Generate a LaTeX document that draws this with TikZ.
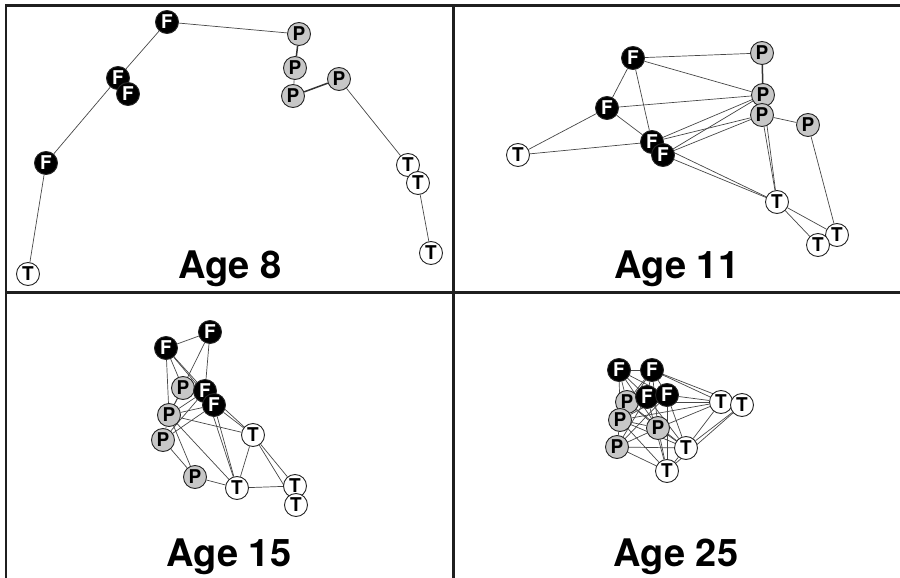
\documentclass[tikz,border=0pt]{standalone}
\usepackage{fontspec}
\setmainfont{TeX Gyre Heros}
\usetikzlibrary{backgrounds}
\begin{document}
\begin{tikzpicture}[x=1pt,y=-1pt,
 nd/.style={circle,draw=black!85,line width=0.9pt,minimum size=23pt,inner sep=0pt,font=\bfseries\fontsize{19}{19}\selectfont},
 fn/.style={nd,fill=black,text=white},
 pn/.style={nd,fill=black!22},
 tn/.style={nd,fill=white},
 ed/.style={draw=black!72,line width=0.7pt},
 thk/.style={draw=black!80,line width=1.5pt},
 frame/.style={draw=black!88,line width=2.7pt},
 agelabel/.style={font=\bfseries\fontsize{38}{38}\selectfont,inner sep=0pt,anchor=base}
]
\useasboundingbox (0,0) rectangle (900,578);
% frame
\draw[frame] (900,5.3) -- (6,5.3) -- (6,578);
\draw[frame] (453.5,5.3) -- (453.5,578);
\draw[frame] (6,292.3) -- (900,292.3);
% labels
\node[agelabel] (l8) at (230,278) {Age 8};
\node[agelabel] (l11) at (677,278) {Age 11};
\node[agelabel] (l15) at (229,566) {Age 15};
\node[agelabel] (l25) at (676,566) {Age 25};

% ---------------- Age 8
\node[fn] (aF1) at (167,22) {F};
\node[fn] (aF2) at (118,78) {F};
\node[fn] (aF3) at (128,94) {F};
\node[fn] (aF4) at (46,163) {F};
\node[pn] (aP1) at (299,34) {P};
\node[pn] (aP2) at (295,68) {P};
\node[pn] (aP3) at (293,96) {P};
\node[pn] (aP4) at (339,79) {P};
\node[tn] (aT1) at (408,165) {T};
\node[tn] (aT2) at (418,183) {T};
\node[tn] (aT3) at (431,253) {T};
\node[tn] (aT4) at (28,274) {T};
\begin{scope}[on background layer]
\draw[ed] (aF1) -- (aP1);
\draw[ed] (aF1) -- (aF2);
\draw[ed] (aF2) -- (aF4);
\draw[ed] (aF4) -- (aT4);
\draw[thk] (aP1) -- (aP2);
\draw[ed] (aP2) -- (aP3);
\draw[thk] (aP3) -- (aP4);
\draw[ed] (aP4) -- (aT1);
\draw[ed] (aT1) -- (aT2);
\draw[ed] (aT2) -- (aT3);
\end{scope}

% ---------------- Age 11
\node[fn] (bF1) at (633,58) {F};
\node[fn] (bF2) at (607,108) {F};
\node[fn] (bF3) at (652,142) {F};
\node[fn] (bF4) at (663,155) {F};
\node[pn] (bP1) at (762,53) {P};
\node[pn] (bP2) at (763,95) {P};
\node[pn] (bP3) at (762,115) {P};
\node[pn] (bP4) at (808,125) {P};
\node[tn] (bT1) at (518,155) {T};
\node[tn] (bT2) at (777,202) {T};
\node[tn] (bT3) at (837,235) {T};
\node[tn] (bT4) at (818,245) {T};
\begin{scope}[on background layer]
\draw[ed] (bF1) -- (bP1);
\draw[ed] (bF1) -- (bP2);
\draw[ed] (bF1) -- (bF2);
\draw[ed] (bF1) -- (bF3);
\draw[ed] (bF2) -- (bP2);
\draw[ed] (bF2) -- (bT1);
\draw[ed] (bF2) -- (bF3);
\draw[ed] (bT1) -- (bF3);
\draw[ed] (bF3) -- (bP2);
\draw[ed] (bF4) -- (bP2);
\draw[ed] (bF3) -- (bP3);
\draw[ed] (bF4) -- (bP3);
\draw[ed] (bF3) -- (bT2);
\draw[ed] (bF4) -- (bT2);
\draw[thk] (bP1) -- (bP2);
\draw[ed] (bP3) -- (bP4);
\draw[ed] (bP2) -- (bT2);
\draw[ed] (bP3) -- (bT2);
\draw[ed] (bP4) -- (bT3);
\draw[ed] (bT2) -- (bT3);
\draw[ed] (bT2) -- (bT4);
\end{scope}

% ---------------- Age 15
\node[fn] (cF1) at (166,348) {F};
\node[fn] (cF2) at (210,332) {F};
\node[pn] (cP1) at (183,388) {P};
\node[fn] (cF3) at (205,391) {F};
\node[fn] (cF4) at (214,405) {F};
\node[pn] (cP2) at (169,415) {P};
\node[pn] (cP3) at (163,440) {P};
\node[pn] (cP4) at (195,477) {P};
\node[tn] (cT1) at (253,435) {T};
\node[tn] (cT2) at (237,488) {T};
\node[tn] (cT3) at (295,486) {T};
\node[tn] (cT4) at (296,505) {T};
\begin{scope}[on background layer]
\draw[ed] (cF1) -- (cF2);
\draw[ed] (cF1) -- (cP2);
\draw[ed] (cF1) -- (cP1);
\draw[ed] (cF1) -- (cF3);
\draw[ed] (cF1) -- (cF4);
\draw[ed] (cF2) -- (cP2);
\draw[ed] (cF2) -- (cF3);
\draw[ed] (cP1) -- (cP2);
\draw[ed] (cP2) -- (cF3);
\draw[ed] (cP2) -- (cF4);
\draw[ed] (cP3) -- (cF3);
\draw[ed] (cP3) -- (cF4);
\draw[ed] (cP2) -- (cP3);
\draw[ed] (cP3) -- (cP4);
\draw[ed] (cP2) -- (cP4);
\draw[ed] (cP2) -- (cT1);
\draw[ed] (cP2) -- (cT2);
\draw[ed] (cF3) -- (cT2);
\draw[ed] (cF4) -- (cT2);
\draw[ed] (cF3) -- (cT1);
\draw[ed] (cF4) -- (cT1);
\draw[ed] (cP4) -- (cT2);
\draw[ed] (cT1) -- (cT2);
\draw[ed] (cT1) -- (cT3);
\draw[ed] (cT1) -- (cT4);
\draw[ed] (cT2) -- (cT3);
\draw[ed] (cT3) -- (cT4);
\end{scope}

% ---------------- Age 25
\node[fn] (dF1) at (619,370) {F};
\node[fn] (dF2) at (652,370) {F};
\node[pn] (dP1) at (627,402) {P};
\node[pn] (dP2) at (620,420) {P};
\node[pn] (dP4) at (617,447) {P};
\node[fn] (dF3) at (647,397) {F};
\node[fn] (dF4) at (667,395) {F};
\node[pn] (dP3) at (658,428) {P};
\node[tn] (dT1) at (721,402) {T};
\node[tn] (dT2) at (742,405) {T};
\node[tn] (dT3) at (686,448) {T};
\node[tn] (dT4) at (667,471) {T};
\begin{scope}[on background layer]
\draw[ed] (dF1) -- (dF2);
\draw[ed] (dF1) -- (dP1);
\draw[ed] (dF1) -- (dP2);
\draw[ed] (dF1) -- (dF3);
\draw[ed] (dF1) -- (dF4);
\draw[ed] (dF1) -- (dP3);
\draw[ed] (dF2) -- (dF3);
\draw[ed] (dF2) -- (dF4);
\draw[ed] (dF2) -- (dP1);
\draw[ed] (dF2) -- (dP2);
\draw[ed] (dF2) -- (dP3);
\draw[ed] (dF2) -- (dT1);
\draw[ed] (dF2) -- (dT2);
\draw[ed] (dF3) -- (dP2);
\draw[ed] (dF3) -- (dP4);
\draw[ed] (dF3) -- (dT3);
\draw[ed] (dF3) -- (dT4);
\draw[ed] (dF4) -- (dT1);
\draw[ed] (dF4) -- (dP2);
\draw[ed] (dF4) -- (dP4);
\draw[ed] (dF4) -- (dT3);
\draw[ed] (dF4) -- (dT4);
\draw[ed] (dP1) -- (dT1);
\draw[ed] (dP1) -- (dP3);
\draw[ed] (dP1) -- (dT3);
\draw[ed] (dP2) -- (dT1);
\draw[ed] (dP2) -- (dP3);
\draw[ed] (dP2) -- (dT3);
\draw[ed] (dP2) -- (dT4);
\draw[ed] (dP2) -- (dP4);
\draw[ed] (dP3) -- (dT1);
\draw[ed] (dP3) -- (dT3);
\draw[ed] (dP3) -- (dT4);
\draw[ed] (dP3) -- (dP4);
\draw[ed] (dP4) -- (dT4);
\draw[ed] (dP4) -- (dT3);
\draw[ed] (dT1) -- (dT3);
\draw[ed] (dT2) -- (dT3);
\draw[ed] (dT2) -- (dT4);
\draw[ed] (dT3) -- (dT4);
\end{scope}
\end{tikzpicture}
\end{document}
